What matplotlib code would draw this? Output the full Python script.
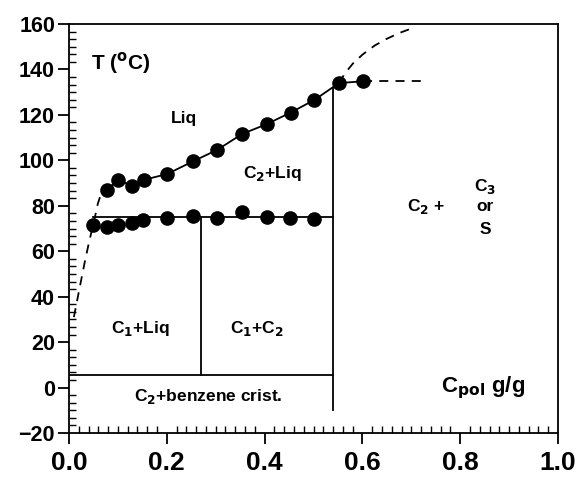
import matplotlib
matplotlib.use("Agg")
import matplotlib.pyplot as plt
from matplotlib.ticker import AutoMinorLocator, MultipleLocator

plt.rcParams['font.family'] = ['Liberation Sans', 'DejaVu Sans']
plt.rcParams['font.weight'] = 'bold'
plt.rcParams['mathtext.default'] = 'bf'

# Liquidus points (upper series)
liq_x = [0.077, 0.101, 0.128, 0.153, 0.201, 0.253, 0.303, 0.354, 0.404, 0.453, 0.502, 0.552]
liq_y = [87.0, 91.4, 88.8, 91.4, 94.0, 99.5, 104.6, 111.6, 115.9, 121.0, 126.6, 134.0]
# Plateau points beyond
plat_x = [0.552, 0.602]
plat_y = [134.0, 134.8]
plat_dash_x = [0.602, 0.727]
plat_dash_y = [134.8, 134.8]
# Eutectic points (lower series)
eut_x = [0.050, 0.077, 0.101, 0.128, 0.152, 0.200, 0.253, 0.302, 0.353, 0.404, 0.452, 0.502]
eut_y = [71.5, 70.5, 71.5, 72.3, 73.7, 74.5, 75.5, 74.5, 77.4, 75.2, 74.5, 74.2]
# Dashed curves
left_dash_x = [0.010, 0.020, 0.032, 0.040, 0.047, 0.053, 0.059, 0.066, 0.077]
left_dash_y = [31.0, 42.0, 55.0, 63.0, 69.5, 75.0, 81.0, 85.5, 87.0]
top_dash_x = [0.552, 0.565, 0.581, 0.600, 0.625, 0.650, 0.675, 0.700]
top_dash_y = [134.0, 138.5, 142.7, 146.5, 150.5, 153.5, 156.0, 158.0]
# Phase boundaries
eut_line_x = [0.050, 0.539]
eut_line_y = [75.0, 75.0]
bottom_line_x = [0.0, 0.539]
bottom_line_y = [5.5, 5.5]
vline1_x = [0.270, 0.270]
vline1_y = [75.0, 5.5]
vline2_x = [0.539, 0.539]
vline2_y = [132.0, -10.0]

fig = plt.figure(figsize=(5.77, 4.78), dpi=100)
ax = fig.add_axes([69/577, 1-433/478, (558-69)/577, (433-24)/478])

lw = 1.3
ax.plot(liq_x, liq_y, '-', color='black', lw=lw)
ax.plot(plat_x, plat_y, '-', color='black', lw=lw)
ax.plot(plat_dash_x, plat_dash_y, '--', color='black', lw=lw, dashes=(5, 4))
ax.plot(left_dash_x, left_dash_y, '--', color='black', lw=lw, dashes=(5, 4))
ax.plot(top_dash_x, top_dash_y, '--', color='black', lw=lw, dashes=(5, 4))
ax.plot(eut_line_x, eut_line_y, '-', color='black', lw=lw)
ax.plot(bottom_line_x, bottom_line_y, '-', color='black', lw=lw)
ax.plot(vline1_x, vline1_y, '-', color='black', lw=lw)
ax.plot(vline2_x, vline2_y, '-', color='black', lw=lw)

ax.plot(liq_x, liq_y, 'o', color='black', ms=9.5)
ax.plot(plat_x[1:], plat_y[1:], 'o', color='black', ms=9.5)
ax.plot(eut_x, eut_y, 'o', color='black', ms=9.5)

ax.set_xlim(0, 1.0)
ax.set_ylim(-20, 160)
ax.xaxis.set_major_locator(MultipleLocator(0.2))
ax.yaxis.set_major_locator(MultipleLocator(20))
ax.xaxis.set_minor_locator(AutoMinorLocator(10))
ax.yaxis.set_minor_locator(AutoMinorLocator(6))
ax.xaxis.set_major_formatter(matplotlib.ticker.FormatStrFormatter('%.1f'))

ax.tick_params(axis='both', which='major', direction='out', length=8, width=1.3)
ax.tick_params(axis='both', which='minor', direction='in', length=5, width=1.0)
ax.tick_params(axis='y', which='major', labelsize=15.5, pad=2)
ax.tick_params(axis='x', which='major', labelsize=19, pad=5)
for lab in ax.get_xticklabels() + ax.get_yticklabels():
    lab.set_fontweight('bold')
for s in ax.spines.values():
    s.set_linewidth(1.3)

tk = dict(ha='center', va='center', fontweight='bold', fontsize=12.5)
ax.text(0.044, 143, r'T ($^{\mathrm{o}}$C)', ha='left', va='center', fontsize=15, fontweight='bold')
ax.text(0.235, 118.5, 'Liq', **tk)
ax.text(0.415, 94.3, r'C$_2$+Liq', **tk)
ax.text(0.731, 79.6, r'C$_2$ +', **tk)
ax.text(0.851, 88.5, r'C$_3$', **tk)
ax.text(0.851, 79.6, 'or', **tk)
ax.text(0.851, 69.4, 'S', **tk)
ax.text(0.145, 26, r'C$_1$+Liq', **tk)
ax.text(0.385, 26, r'C$_1$+C$_2$', **tk)
ax.text(0.284, -3.9, r'C$_2$+benzene crist.', **tk)
ax.text(0.847, 0, r'C$_{\mathrm{pol}}$ g/g', ha='center', va='center', fontsize=16, fontweight='bold')

fig.savefig('out.png', dpi=100)
